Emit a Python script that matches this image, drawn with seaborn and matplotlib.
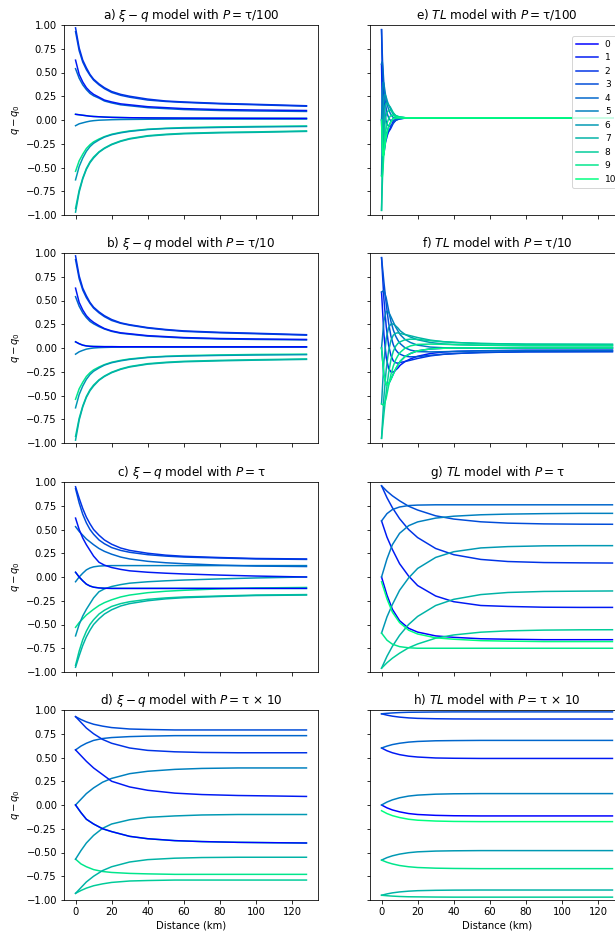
import numpy as np
import matplotlib
matplotlib.use('Agg')
import matplotlib.pyplot as plt
import seaborn as sns

# ==========================================
# distances (km) sampled for each panel
# ==========================================
dist_ab = [0, 2, 4, 6, 8, 10, 13, 16, 20, 25, 30, 40, 50, 60, 80, 100, 128]
dist_c = [0, 2, 4, 6, 8, 10, 13, 16, 20, 25, 30, 40, 50, 60, 80, 100, 128]
dist_dgh = [0, 3, 6, 10, 15, 20, 30, 40, 55, 70, 90, 110, 128]
dist_e = [0, 0.4, 0.8, 1.2, 1.6, 2.0, 2.4, 2.8, 3.2, 4.0, 4.8, 5.6, 6.4, 7.2, 8.0, 10, 14, 128]
dist_f = [0, 1.3, 2.6, 3.9, 5.2, 6.5, 7.8, 9.1, 10.4, 13, 16, 20, 27, 34, 42, 55, 80, 128]

# ==========================================
# q - q0 curves, one list per phase 0..10
# ==========================================
q_a = [
    [0.06, 0.055, 0.05, 0.045, 0.04, 0.037, 0.034, 0.031, 0.028, 0.026, 0.024, 0.022, 0.021, 0.02, 0.019, 0.018, 0.017],
    [0.63, 0.48, 0.40, 0.34, 0.30, 0.27, 0.24, 0.21, 0.19, 0.17, 0.16, 0.14, 0.13, 0.12, 0.11, 0.105, 0.10],
    [0.97, 0.76, 0.63, 0.55, 0.48, 0.43, 0.38, 0.34, 0.30, 0.27, 0.25, 0.22, 0.20, 0.19, 0.175, 0.165, 0.15],
    [0.93, 0.73, 0.61, 0.53, 0.47, 0.42, 0.37, 0.33, 0.29, 0.26, 0.24, 0.21, 0.195, 0.185, 0.17, 0.16, 0.145],
    [0.54, 0.44, 0.37, 0.32, 0.28, 0.255, 0.23, 0.20, 0.18, 0.16, 0.15, 0.13, 0.12, 0.11, 0.10, 0.095, 0.09],
    [-0.06, -0.04, -0.03, -0.02, -0.012, -0.007, -0.002, 0.0, 0.003, 0.005, 0.006, 0.008, 0.009, 0.01, 0.01, 0.01, 0.01],
    [-0.63, -0.49, -0.40, -0.33, -0.28, -0.245, -0.21, -0.18, -0.155, -0.135, -0.12, -0.10, -0.09, -0.085, -0.078, -0.073, -0.068],
    [-0.97, -0.76, -0.62, -0.52, -0.45, -0.40, -0.34, -0.30, -0.26, -0.225, -0.20, -0.17, -0.155, -0.145, -0.135, -0.13, -0.12],
    [-0.93, -0.74, -0.61, -0.51, -0.44, -0.39, -0.335, -0.295, -0.255, -0.22, -0.195, -0.165, -0.15, -0.14, -0.13, -0.125, -0.115],
    [-0.54, -0.43, -0.36, -0.30, -0.26, -0.23, -0.20, -0.175, -0.15, -0.13, -0.115, -0.097, -0.087, -0.08, -0.073, -0.068, -0.063],
    [0.06, 0.055, 0.05, 0.045, 0.04, 0.037, 0.034, 0.031, 0.028, 0.026, 0.024, 0.022, 0.021, 0.02, 0.019, 0.018, 0.017],
]

q_b = [
    [0.065, 0.045, 0.03, 0.022, 0.018, 0.016, 0.015, 0.014, 0.014, 0.013, 0.013, 0.013, 0.012, 0.012, 0.012, 0.012, 0.012],
    [0.63, 0.48, 0.40, 0.34, 0.30, 0.27, 0.235, 0.205, 0.18, 0.16, 0.15, 0.13, 0.12, 0.11, 0.10, 0.095, 0.09],
    [0.97, 0.76, 0.63, 0.55, 0.48, 0.43, 0.38, 0.34, 0.30, 0.265, 0.245, 0.215, 0.195, 0.18, 0.165, 0.155, 0.14],
    [0.93, 0.73, 0.61, 0.53, 0.47, 0.42, 0.37, 0.33, 0.29, 0.26, 0.24, 0.21, 0.19, 0.175, 0.16, 0.15, 0.135],
    [0.54, 0.44, 0.37, 0.32, 0.28, 0.255, 0.225, 0.20, 0.175, 0.155, 0.145, 0.125, 0.115, 0.105, 0.095, 0.09, 0.085],
    [-0.065, -0.04, -0.025, -0.012, -0.005, 0.0, 0.004, 0.006, 0.008, 0.009, 0.01, 0.01, 0.01, 0.01, 0.01, 0.01, 0.01],
    [-0.63, -0.49, -0.40, -0.33, -0.28, -0.245, -0.21, -0.18, -0.155, -0.135, -0.12, -0.10, -0.09, -0.085, -0.078, -0.074, -0.07],
    [-0.97, -0.76, -0.62, -0.52, -0.45, -0.40, -0.34, -0.30, -0.26, -0.225, -0.20, -0.17, -0.155, -0.145, -0.135, -0.128, -0.12],
    [-0.93, -0.74, -0.61, -0.51, -0.44, -0.39, -0.335, -0.295, -0.255, -0.22, -0.195, -0.165, -0.15, -0.14, -0.13, -0.123, -0.115],
    [-0.54, -0.43, -0.36, -0.30, -0.26, -0.23, -0.20, -0.175, -0.15, -0.13, -0.115, -0.097, -0.087, -0.08, -0.073, -0.068, -0.065],
    [0.065, 0.045, 0.03, 0.022, 0.018, 0.016, 0.015, 0.014, 0.014, 0.013, 0.013, 0.013, 0.012, 0.012, 0.012, 0.012, 0.012],
]

q_c = [
    [0.05, 0.0, -0.04, -0.075, -0.095, -0.107, -0.115, -0.118, -0.12, -0.12, -0.12, -0.12, -0.12, -0.12, -0.12, -0.12, -0.12],
    [0.62, 0.50, 0.41, 0.34, 0.28, 0.22, 0.155, 0.125, 0.10, 0.08, 0.065, 0.05, 0.04, 0.032, 0.02, 0.01, 0.0],
    [0.95, 0.83, 0.72, 0.63, 0.56, 0.50, 0.44, 0.39, 0.345, 0.305, 0.28, 0.25, 0.23, 0.218, 0.205, 0.195, 0.19],
    [0.93, 0.78, 0.66, 0.57, 0.50, 0.45, 0.39, 0.35, 0.31, 0.28, 0.26, 0.235, 0.22, 0.21, 0.20, 0.19, 0.185],
    [0.53, 0.48, 0.44, 0.40, 0.37, 0.34, 0.30, 0.27, 0.24, 0.21, 0.19, 0.165, 0.15, 0.14, 0.125, 0.115, 0.11],
    [-0.05, 0.0, 0.04, 0.075, 0.095, 0.107, 0.115, 0.118, 0.12, 0.12, 0.12, 0.12, 0.12, 0.12, 0.12, 0.12, 0.12],
    [-0.62, -0.50, -0.41, -0.34, -0.28, -0.22, -0.155, -0.125, -0.10, -0.08, -0.065, -0.05, -0.04, -0.032, -0.02, -0.01, 0.0],
    [-0.95, -0.83, -0.72, -0.63, -0.56, -0.50, -0.44, -0.39, -0.345, -0.305, -0.28, -0.25, -0.23, -0.218, -0.205, -0.195, -0.19],
    [-0.93, -0.78, -0.66, -0.57, -0.50, -0.45, -0.39, -0.35, -0.31, -0.28, -0.26, -0.235, -0.22, -0.21, -0.20, -0.19, -0.185],
    [-0.53, -0.48, -0.44, -0.40, -0.37, -0.34, -0.30, -0.27, -0.24, -0.21, -0.19, -0.165, -0.15, -0.14, -0.125, -0.115, -0.11],
    [0.05, 0.0, -0.04, -0.075, -0.095, -0.107, -0.115, -0.118, -0.12, -0.12, -0.12, -0.12, -0.12, -0.12, -0.12, -0.12, -0.12],
]

q_d = [
    [0.0, -0.08, -0.15, -0.20, -0.25, -0.28, -0.33, -0.355, -0.375, -0.385, -0.393, -0.397, -0.40],
    [0.58, 0.52, 0.46, 0.39, 0.32, 0.25, 0.19, 0.155, 0.125, 0.11, 0.10, 0.095, 0.09],
    [0.93, 0.87, 0.81, 0.75, 0.69, 0.65, 0.60, 0.575, 0.56, 0.553, 0.55, 0.55, 0.55],
    [0.93, 0.90, 0.875, 0.85, 0.83, 0.815, 0.80, 0.795, 0.79, 0.79, 0.79, 0.79, 0.79],
    [0.58, 0.62, 0.65, 0.68, 0.70, 0.71, 0.72, 0.725, 0.73, 0.73, 0.73, 0.73, 0.73],
    [0.0, 0.06, 0.12, 0.18, 0.24, 0.28, 0.33, 0.355, 0.375, 0.385, 0.39, 0.39, 0.39],
    [-0.57, -0.48, -0.40, -0.32, -0.245, -0.20, -0.155, -0.13, -0.115, -0.105, -0.10, -0.10, -0.10],
    [-0.93, -0.87, -0.81, -0.75, -0.69, -0.65, -0.60, -0.575, -0.56, -0.553, -0.55, -0.55, -0.55],
    [-0.93, -0.90, -0.875, -0.85, -0.83, -0.815, -0.80, -0.795, -0.79, -0.79, -0.79, -0.79, -0.79],
    [-0.57, -0.62, -0.65, -0.68, -0.70, -0.71, -0.72, -0.725, -0.73, -0.73, -0.73, -0.73, -0.73],
    [0.0, -0.08, -0.15, -0.20, -0.25, -0.28, -0.33, -0.355, -0.375, -0.385, -0.393, -0.397, -0.40],
]

q_e = [
    [0.0, -0.279, -0.377, -0.366, -0.314, -0.259, -0.205, -0.162, -0.121, -0.068, -0.034, -0.005, 0.014, 0.019, 0.021, 0.022, 0.022, 0.022],
    [0.588, 0.152, -0.091, -0.202, -0.237, -0.237, -0.216, -0.193, -0.162, -0.119, -0.087, -0.051, -0.020, -0.004, 0.007, 0.016, 0.022, 0.022],
    [0.951, 0.526, 0.234, 0.044, -0.064, -0.119, -0.138, -0.143, -0.134, -0.118, -0.100, -0.070, -0.038, -0.018, -0.002, 0.013, 0.022, 0.022],
    [0.951, 0.703, 0.474, 0.279, 0.139, 0.051, -0.001, -0.032, -0.048, -0.065, -0.067, -0.055, -0.034, -0.016, -0.002, 0.012, 0.022, 0.022],
    [0.588, 0.614, 0.536, 0.412, 0.295, 0.207, 0.143, 0.097, 0.063, 0.021, -0.001, -0.011, -0.008, -0.001, 0.007, 0.016, 0.022, 0.022],
    [0.0, 0.293, 0.397, 0.392, 0.344, 0.291, 0.239, 0.196, 0.157, 0.106, 0.072, 0.045, 0.028, 0.023, 0.022, 0.022, 0.022, 0.022],
    [-0.588, -0.138, 0.111, 0.228, 0.267, 0.269, 0.250, 0.227, 0.198, 0.157, 0.125, 0.091, 0.062, 0.046, 0.037, 0.028, 0.022, 0.022],
    [-0.951, -0.512, -0.214, -0.018, 0.094, 0.151, 0.172, 0.177, 0.170, 0.156, 0.138, 0.110, 0.080, 0.060, 0.045, 0.031, 0.022, 0.022],
    [-0.951, -0.689, -0.454, -0.253, -0.109, -0.019, 0.035, 0.066, 0.084, 0.103, 0.105, 0.095, 0.075, 0.058, 0.045, 0.032, 0.022, 0.022],
    [-0.588, -0.600, -0.516, -0.386, -0.265, -0.175, -0.109, -0.063, -0.027, 0.017, 0.039, 0.051, 0.050, 0.043, 0.037, 0.028, 0.022, 0.022],
    [0.0, -0.279, -0.377, -0.366, -0.314, -0.259, -0.205, -0.162, -0.121, -0.068, -0.034, -0.005, 0.014, 0.019, 0.021, 0.022, 0.022, 0.022],
]

q_f = [
    [0.0, -0.286, -0.387, -0.379, -0.329, -0.275, -0.222, -0.179, -0.139, -0.090, -0.058, -0.030, -0.010, -0.003, 0.0, 0.001, 0.001, 0.001],
    [0.588, 0.145, -0.101, -0.215, -0.252, -0.253, -0.233, -0.210, -0.180, -0.143, -0.115, -0.087, -0.058, -0.043, -0.035, -0.029, -0.024, -0.023],
    [0.951, 0.519, 0.224, 0.031, -0.079, -0.135, -0.155, -0.160, -0.152, -0.142, -0.129, -0.110, -0.083, -0.067, -0.057, -0.047, -0.040, -0.038],
    [0.951, 0.696, 0.464, 0.266, 0.124, 0.035, -0.018, -0.049, -0.066, -0.087, -0.093, -0.091, -0.077, -0.066, -0.057, -0.048, -0.040, -0.038],
    [0.588, 0.607, 0.526, 0.399, 0.280, 0.191, 0.126, 0.080, 0.045, 0.002, -0.022, -0.038, -0.041, -0.039, -0.035, -0.030, -0.026, -0.024],
    [0.0, 0.286, 0.387, 0.379, 0.329, 0.275, 0.222, 0.179, 0.139, 0.090, 0.058, 0.030, 0.010, 0.003, 0.0, -0.001, -0.001, -0.001],
    [-0.588, -0.145, 0.101, 0.215, 0.252, 0.253, 0.233, 0.210, 0.180, 0.143, 0.115, 0.087, 0.058, 0.043, 0.035, 0.029, 0.024, 0.023],
    [-0.951, -0.519, -0.224, -0.031, 0.079, 0.135, 0.155, 0.160, 0.152, 0.142, 0.129, 0.110, 0.083, 0.067, 0.057, 0.047, 0.040, 0.038],
    [-0.951, -0.696, -0.464, -0.266, -0.124, -0.035, 0.018, 0.049, 0.066, 0.087, 0.093, 0.091, 0.077, 0.066, 0.057, 0.048, 0.040, 0.038],
    [-0.588, -0.607, -0.526, -0.399, -0.280, -0.191, -0.126, -0.080, -0.045, -0.002, 0.022, 0.038, 0.041, 0.039, 0.035, 0.030, 0.026, 0.024],
    [0.0, -0.286, -0.387, -0.379, -0.329, -0.275, -0.222, -0.179, -0.139, -0.090, -0.058, -0.030, -0.010, -0.003, 0.0, 0.001, 0.001, 0.001],
]

q_g = [
    [0.0, -0.19, -0.34, -0.46, -0.54, -0.58, -0.62, -0.635, -0.65, -0.655, -0.66, -0.66, -0.66],
    [0.59, 0.42, 0.29, 0.14, 0.01, -0.09, -0.20, -0.26, -0.30, -0.31, -0.318, -0.32, -0.32],
    [0.96, 0.835, 0.73, 0.614, 0.50, 0.415, 0.30, 0.235, 0.185, 0.163, 0.152, 0.149, 0.147],
    [0.96, 0.903, 0.855, 0.802, 0.745, 0.705, 0.644, 0.61, 0.581, 0.567, 0.559, 0.556, 0.555],
    [0.59, 0.667, 0.71, 0.737, 0.752, 0.757, 0.76, 0.76, 0.76, 0.76, 0.76, 0.76, 0.76],
    [0.0, 0.19, 0.34, 0.46, 0.54, 0.58, 0.62, 0.64, 0.655, 0.662, 0.667, 0.67, 0.67],
    [-0.59, -0.42, -0.29, -0.14, -0.01, 0.09, 0.206, 0.266, 0.306, 0.32, 0.328, 0.33, 0.33],
    [-0.96, -0.835, -0.73, -0.614, -0.50, -0.415, -0.30, -0.235, -0.185, -0.163, -0.152, -0.149, -0.147],
    [-0.96, -0.903, -0.855, -0.802, -0.745, -0.705, -0.644, -0.61, -0.581, -0.567, -0.559, -0.556, -0.555],
    [-0.59, -0.665, -0.707, -0.733, -0.745, -0.75, -0.75, -0.75, -0.75, -0.75, -0.75, -0.75, -0.75],
    [-0.05, -0.23, -0.37, -0.48, -0.56, -0.60, -0.64, -0.655, -0.67, -0.675, -0.68, -0.68, -0.68],
]

q_h = [
    [0.0, -0.03, -0.052, -0.072, -0.09, -0.10, -0.109, -0.113, -0.115, -0.115, -0.115, -0.115, -0.115],
    [0.60, 0.571, 0.55, 0.53, 0.514, 0.505, 0.495, 0.492, 0.49, 0.49, 0.49, 0.49, 0.49],
    [0.96, 0.946, 0.935, 0.925, 0.917, 0.912, 0.908, 0.906, 0.905, 0.905, 0.905, 0.905, 0.905],
    [0.96, 0.965, 0.969, 0.973, 0.976, 0.977, 0.979, 0.98, 0.98, 0.98, 0.98, 0.98, 0.98],
    [0.60, 0.62, 0.636, 0.65, 0.662, 0.669, 0.676, 0.678, 0.68, 0.68, 0.68, 0.68, 0.68],
    [0.0, 0.031, 0.054, 0.076, 0.094, 0.104, 0.114, 0.118, 0.12, 0.12, 0.12, 0.12, 0.12],
    [-0.58, -0.554, -0.535, -0.517, -0.502, -0.493, -0.485, -0.482, -0.48, -0.48, -0.48, -0.48, -0.48],
    [-0.95, -0.936, -0.925, -0.915, -0.907, -0.902, -0.898, -0.896, -0.895, -0.895, -0.895, -0.895, -0.895],
    [-0.95, -0.955, -0.959, -0.963, -0.966, -0.967, -0.969, -0.97, -0.97, -0.97, -0.97, -0.97, -0.97],
    [-0.58, -0.603, -0.62, -0.637, -0.65, -0.658, -0.665, -0.668, -0.67, -0.67, -0.67, -0.67, -0.67],
    [-0.06, -0.09, -0.112, -0.132, -0.15, -0.16, -0.169, -0.173, -0.175, -0.175, -0.175, -0.175, -0.175],
]

phase_labels = [str(i) for i in range(11)]

titles_left = [r"a) $\xi - q$ model with $P = $τ/100",
               r"b) $\xi - q$ model with $P = $τ/10",
               r"c) $\xi - q$ model with $P = $τ",
               r"d) $\xi - q$ model with $P = $τ × 10"]
titles_right = [r"e) $TL$ model with $P = $τ/100",
                r"f) $TL$ model with $P = $τ/10",
                r"g) $TL$ model with $P = $τ",
                r"h) $TL$ model with $P = $τ × 10"]

# ==========================================
# figure: axes placed in pixels, right column runs off the edge
# ==========================================
W, H = 615, 931
fig = plt.figure(figsize=(W / 72, H / 72), dpi=72)
colors = plt.cm.winter(np.linspace(0, 1, 11))

row_tops = [25, 253, 482, 710]
ax_w, ax_h = 254, 190
col_lefts = [64, 370]

left_data = [(q_a, dist_ab), (q_b, dist_ab), (q_c, dist_c), (q_d, dist_dgh)]
right_data = [(q_e, dist_e), (q_f, dist_f), (q_g, dist_dgh), (q_h, dist_dgh)]

for row in range(4):
    for col in range(2):
        ax = fig.add_axes([col_lefts[col] / W, 1 - (row_tops[row] + ax_h) / H, ax_w / W, ax_h / H])
        curves, dist = (left_data if col == 0 else right_data)[row]
        # left column: phase 10 repeats phase 0, so draw it underneath
        order = list(reversed(range(11))) if col == 0 else list(range(11))
        for k in order:
            sns.lineplot(x=dist, y=curves[k], color=colors[k], linewidth=1.5,
                         label=phase_labels[k], legend=False, ax=ax)
        ax.set_ylim(-1, 1)
        ax.set_yticks(np.arange(-1, 1.01, 0.25))
        ax.set_xticks([0, 20, 40, 60, 80, 100, 120])
        ax.set_title((titles_left if col == 0 else titles_right)[row], fontsize=12)
        if col == 0:
            ax.set_ylabel(r"$q - q_0$")
        else:
            ax.tick_params(labelleft=False)
        if row == 3:
            ax.set_xlabel("Distance (km)")
        else:
            ax.tick_params(labelbottom=False)
        if row == 0 and col == 1:
            ax.legend(loc='upper right', bbox_to_anchor=(0.984, 0.94), borderaxespad=0,
                      fontsize=9, handlelength=2.4)

fig.savefig('out.png', dpi=72)
